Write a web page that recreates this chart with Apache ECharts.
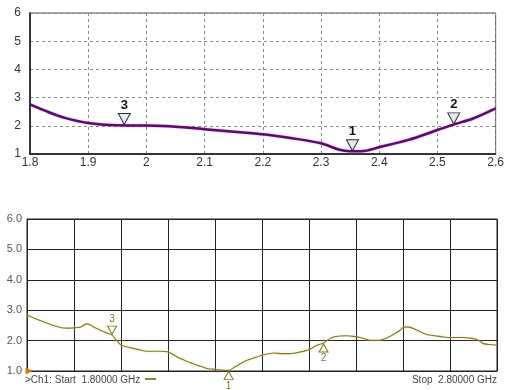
<!DOCTYPE html>
<html>
<head>
<meta charset="utf-8">
<script src="https://cdn.jsdelivr.net/npm/echarts@6/dist/echarts.min.js"></script>
<style>
  html, body { margin: 0; padding: 0; background: #fff; }
  #chart { width: 507px; height: 390px; }
</style>
</head>
<body>
<div id="chart"></div>
<script>
// Upper plot: simulated VSWR, 1.8 - 2.6 GHz
const simFreq = [1.80, 1.83, 1.86, 1.90, 1.95, 2.00, 2.05, 2.10, 2.15, 2.20, 2.25, 2.30, 2.33, 2.35, 2.37, 2.40, 2.45, 2.50, 2.53, 2.56, 2.60];
const simVswr = [2.76, 2.50, 2.28, 2.10, 2.02, 2.01, 1.97, 1.88, 1.79, 1.70, 1.56, 1.38, 1.16, 1.10, 1.10, 1.24, 1.50, 1.85, 2.06, 2.25, 2.62];
const simMarkerId = ['1', '2', '3'];
const simMarkerFreq = [2.354, 2.528, 1.962];
const simMarkerVswr = [1.10, 2.05, 2.03];
const simXTicks = [1.8, 1.9, 2.0, 2.1, 2.2, 2.3, 2.4, 2.5, 2.6];
const simYTicks = [1, 2, 3, 4, 5, 6];

// Lower plot: measured VSWR, 1.8 - 2.8 GHz
const measFreq = [1.800, 1.818, 1.835, 1.852, 1.871, 1.885, 1.900, 1.914, 1.926, 1.934, 1.942, 1.952, 1.963, 1.972, 1.981, 1.990, 2.000, 2.013, 2.027, 2.041, 2.055, 2.070, 2.084, 2.100, 2.113, 2.126, 2.140, 2.154, 2.168, 2.183, 2.200, 2.215, 2.229, 2.241, 2.254, 2.268, 2.282, 2.300, 2.325, 2.342, 2.360, 2.380, 2.396, 2.407, 2.417, 2.431, 2.442, 2.452, 2.466, 2.480, 2.495, 2.509, 2.520, 2.530, 2.550, 2.562, 2.573, 2.584, 2.594, 2.600, 2.610, 2.620, 2.630, 2.640, 2.650, 2.672, 2.686, 2.700, 2.715, 2.729, 2.742, 2.754, 2.763, 2.771, 2.785, 2.800];
const measVswr = [2.84, 2.72, 2.62, 2.52, 2.43, 2.41, 2.42, 2.44, 2.55, 2.52, 2.45, 2.37, 2.29, 2.24, 2.18, 2.02, 1.85, 1.79, 1.74, 1.69, 1.65, 1.65, 1.65, 1.63, 1.52, 1.41, 1.32, 1.24, 1.16, 1.08, 1.05, 1.03, 1.02, 1.12, 1.24, 1.35, 1.43, 1.52, 1.59, 1.57, 1.57, 1.62, 1.68, 1.76, 1.85, 1.92, 2.04, 2.12, 2.15, 2.16, 2.14, 2.10, 2.05, 2.01, 2.01, 2.06, 2.14, 2.24, 2.34, 2.43, 2.45, 2.41, 2.34, 2.27, 2.20, 2.15, 2.12, 2.10, 2.10, 2.10, 2.08, 2.05, 1.99, 1.90, 1.87, 1.85];
const measMarkerId = ['1', '2', '3'];
const measMarkerFreq = [2.229, 2.431, 1.981];
const measMarkerVswr = [1.02, 1.92, 2.18];
const measYTicks = ['1.0', '2.0', '3.0', '4.0', '5.0', '6.0'];
const measStartLabel = '>Ch1: Start  1.80000 GHz';
const measStopLabel = 'Stop  2.80000 GHz';

const chart = echarts.init(document.getElementById('chart'), null, { renderer: 'canvas' });

const FONT = '"Liberation Sans", Arial, sans-serif';
const olive = '#7a7636';

// marker triangles for the upper plot (pointing down onto the trace)
const simMarks = simMarkerId.map((id, i) => ({
  coord: [simMarkerFreq[i], simMarkerVswr[i]],
  symbol: 'triangle',
  symbolRotate: 180,
  symbolSize: [12, 11],
  symbolOffset: [0, -6],
  itemStyle: { color: '#e6e8f2', borderColor: '#2a2a3a', borderWidth: 1 },
  label: {
    show: true, formatter: id, position: 'top', distance: 1,
    color: '#111', fontSize: 13, fontWeight: 'bold', fontFamily: FONT
  }
}));

// marker triangles for the lower plot
const measMarks = measMarkerId.map((id, i) => {
  const below = id !== '3';
  return {
    coord: [measMarkerFreq[i], measMarkerVswr[i]],
    symbol: 'triangle',
    symbolRotate: below ? 0 : 180,
    symbolSize: [9, 8],
    symbolOffset: [0, below ? 5 : -5],
    itemStyle: { color: '#fbfbe8', borderColor: olive, borderWidth: 1 },
    label: {
      show: true, formatter: id, position: below ? 'bottom' : 'top', distance: 1,
      color: olive, fontSize: 10, fontFamily: FONT
    }
  };
});
// reference level indicator at the left edge
measMarks.push({
  coord: [1.8, 1.0],
  symbol: 'triangle',
  symbolRotate: -90,
  symbolSize: [7, 7],
  symbolOffset: [2, 0],
  itemStyle: { color: '#d47a00', borderWidth: 0 },
  label: { show: false }
});

chart.setOption({
  animation: false,
  backgroundColor: '#fff',
  grid: [
    { left: 30, top: 13, width: 468, height: 141, show: true, borderColor: '#555', borderWidth: 1, backgroundColor: '#fff' },
    { left: 27, top: 219, width: 470, height: 152, show: true, borderColor: '#222', borderWidth: 1, backgroundColor: '#fff' }
  ],
  xAxis: [
    {
      gridIndex: 0, type: 'value', min: simXTicks[0], max: simXTicks[simXTicks.length - 1], interval: 0.1,
      axisLine: { show: true, onZero: false, lineStyle: { color: '#111', width: 1.5 } },
      axisTick: { show: false },
      splitLine: { show: true, lineStyle: { color: '#888', type: [3, 3], width: 1 } },
      axisLabel: {
        color: '#333', fontSize: 12, fontFamily: FONT, margin: 3,
        formatter: v => String(Math.round(v * 10) / 10)
      }
    },
    {
      gridIndex: 1, type: 'value', min: 1.8, max: 2.8, interval: 0.1,
      axisLine: { show: true, onZero: false, lineStyle: { color: '#222', width: 1 } },
      axisTick: { show: false },
      splitLine: { show: true, lineStyle: { color: '#222', width: 1 } },
      axisLabel: { show: false }
    }
  ],
  yAxis: [
    {
      gridIndex: 0, type: 'value', min: simYTicks[0], max: simYTicks[simYTicks.length - 1], interval: 1,
      axisLine: { show: true, onZero: false, lineStyle: { color: '#111', width: 1.5 } },
      axisTick: { show: false },
      splitLine: { show: true, lineStyle: { color: '#888', type: [3, 3], width: 1 } },
      axisLabel: { color: '#333', fontSize: 12, fontFamily: FONT, margin: 9 }
    },
    {
      gridIndex: 1, type: 'value', min: 1, max: 6, interval: 1,
      axisLine: { show: true, onZero: false, lineStyle: { color: '#222', width: 1 } },
      axisTick: { show: false },
      splitLine: { show: true, lineStyle: { color: '#222', width: 1 } },
      axisLabel: {
        color: '#555', fontSize: 11, fontFamily: FONT, margin: 5,
        formatter: v => measYTicks[Math.round(v) - 1]
      }
    }
  ],
  series: [
    {
      type: 'line', xAxisIndex: 0, yAxisIndex: 0,
      data: simFreq.map((f, i) => [f, simVswr[i]]),
      smooth: 0.3, showSymbol: false,
      lineStyle: { color: '#5a0c6c', width: 2.5, shadowColor: 'rgba(200,80,220,0.6)', shadowBlur: 2 },
      markPoint: { data: simMarks }
    },
    {
      type: 'line', xAxisIndex: 1, yAxisIndex: 1,
      data: measFreq.map((f, i) => [f, measVswr[i]]),
      smooth: 0.2, showSymbol: false,
      lineStyle: { color: olive, width: 1.1, shadowColor: 'rgba(235,225,120,0.9)', shadowBlur: 3 },
      markPoint: { data: measMarks }
    }
  ],
  graphic: [
    {
      type: 'text', left: 25, top: 375,
      style: { text: measStartLabel, fill: '#444', font: '10px ' + FONT }
    },
    {
      type: 'line', shape: { x1: 145, y1: 379, x2: 156, y2: 379 },
      style: { stroke: '#8a8530', lineWidth: 2 }
    },
    {
      type: 'text', right: 10, top: 375,
      style: { text: measStopLabel, fill: '#444', font: '10px ' + FONT }
    }
  ]
});
</script>
</body>
</html>
